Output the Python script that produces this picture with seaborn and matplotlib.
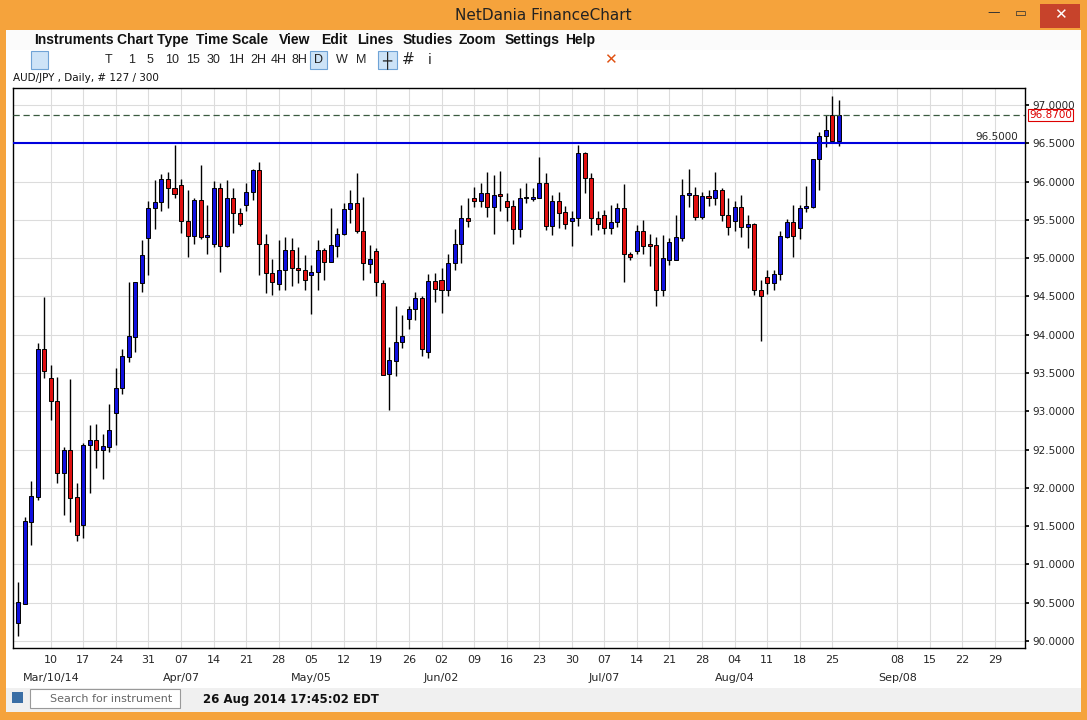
import matplotlib
matplotlib.use('Agg')
import matplotlib.pyplot as plt
import matplotlib.transforms as mtransforms
from matplotlib.patches import Rectangle
import numpy as np
import pandas as pd
import seaborn as sns

# AUD/JPY daily candles, Mar 03 2014 .. Aug 26 2014
opens = [90.23, 90.49, 91.55, 91.88, 93.82, 93.43, 93.14, 92.19, 92.50, 91.88,
         91.52, 92.56, 92.63, 92.49, 92.54, 92.98, 93.31, 93.71, 93.97, 94.68,
         95.26, 95.65, 95.73, 96.03, 95.91, 95.96, 95.49, 95.29, 95.76, 95.27,
         95.19, 95.91, 95.16, 95.79, 95.59, 95.70, 95.86, 96.15, 95.18, 94.80,
         94.66, 94.85, 95.11, 94.87, 94.84, 94.78, 94.82, 95.11, 94.95, 95.16,
         95.32, 95.64, 95.72, 95.35, 94.92, 95.09, 94.68, 93.49, 93.66, 93.90,
         94.21, 94.33, 94.48, 93.78, 94.70, 94.71, 94.58, 94.94, 95.19, 95.52,
         95.79, 95.74, 95.85, 95.67, 95.82, 95.74, 95.68, 95.38, 95.78, 95.77,
         95.79, 95.98, 95.42, 95.75, 95.60, 95.49, 95.52, 96.37, 96.05, 95.52,
         95.56, 95.40, 95.47, 95.65, 95.05, 95.09, 95.35, 95.17, 95.17, 94.58,
         94.97, 94.97, 95.26, 95.82, 95.82, 95.54, 95.81, 95.78, 95.89, 95.57,
         95.49, 95.67, 95.41, 95.45, 94.59, 94.76, 94.67, 94.79, 95.28, 95.47,
         95.39, 95.65, 95.67, 96.29, 96.59, 96.87, 96.53]
closes = [90.505, 91.57, 91.89, 93.82, 93.53, 93.14, 92.19, 92.50, 91.87, 91.39,
          92.56, 92.63, 92.49, 92.55, 92.76, 93.31, 93.72, 93.98, 94.69, 95.04,
          95.65, 95.73, 96.03, 95.91, 95.84, 95.49, 95.29, 95.76, 95.27, 95.30,
          95.91, 95.16, 95.79, 95.59, 95.44, 95.86, 96.15, 95.18, 94.80, 94.69,
          94.85, 95.11, 94.87, 94.84, 94.71, 94.82, 95.11, 94.95, 95.17, 95.32,
          95.64, 95.72, 95.35, 94.94, 94.99, 94.69, 93.48, 93.67, 93.90, 93.98,
          94.33, 94.48, 93.81, 94.70, 94.60, 94.58, 94.94, 95.19, 95.52, 95.49,
          95.74, 95.85, 95.67, 95.82, 95.81, 95.67, 95.38, 95.78, 95.79, 95.79,
          95.98, 95.42, 95.75, 95.59, 95.44, 95.52, 96.37, 96.05, 95.52, 95.44,
          95.40, 95.47, 95.65, 95.05, 95.01, 95.35, 95.16, 95.16, 94.58, 95.00,
          95.21, 95.28, 95.83, 95.83, 95.54, 95.81, 95.78, 95.89, 95.56, 95.41,
          95.67, 95.41, 95.45, 94.58, 94.50, 94.67, 94.79, 95.29, 95.47, 95.29,
          95.65, 95.68, 96.29, 96.59, 96.68, 96.53, 96.87]
highs = [90.77, 91.62, 92.09, 93.89, 94.49, 93.60, 93.45, 92.54, 93.42, 92.07,
         92.59, 92.82, 92.84, 92.71, 93.09, 93.56, 93.82, 94.69, 94.69, 95.24,
         95.75, 96.02, 96.10, 96.13, 96.48, 96.03, 95.89, 95.78, 96.22, 95.69,
         96.01, 95.98, 96.02, 95.91, 95.65, 95.98, 96.17, 96.25, 95.32, 94.99,
         95.24, 95.27, 95.26, 95.15, 95.04, 94.91, 95.24, 95.13, 95.65, 95.39,
         95.72, 95.89, 96.11, 95.80, 95.17, 95.13, 94.72, 93.84, 94.37, 94.26,
         94.37, 94.56, 94.50, 94.79, 94.80, 94.87, 95.06, 95.38, 95.69, 95.78,
         95.93, 95.98, 96.13, 96.09, 96.14, 95.85, 95.76, 95.92, 95.98, 95.92,
         96.32, 96.11, 95.82, 95.87, 95.68, 95.62, 96.48, 96.39, 96.11, 95.61,
         95.63, 95.69, 95.72, 95.97, 95.08, 95.43, 95.50, 95.32, 95.28, 95.30,
         95.26, 95.56, 96.03, 96.17, 95.93, 95.87, 95.89, 96.12, 95.91, 95.79,
         95.74, 95.82, 95.56, 95.46, 94.71, 94.85, 94.84, 95.35, 95.51, 95.69,
         95.69, 95.94, 96.30, 96.65, 96.87, 97.12, 97.07]
lows = [90.06, 90.48, 91.25, 91.84, 93.44, 92.89, 92.07, 91.65, 91.55, 91.30,
        91.35, 91.93, 92.26, 92.12, 92.47, 92.56, 93.23, 93.64, 93.78, 94.56,
        94.78, 95.38, 95.62, 95.65, 95.79, 95.33, 95.02, 95.19, 95.25, 95.05,
        95.15, 94.82, 95.15, 95.33, 95.42, 95.61, 95.76, 94.78, 94.54, 94.52,
        94.58, 94.58, 94.63, 94.68, 94.58, 94.27, 94.59, 94.71, 94.95, 95.02,
        95.30, 95.46, 95.33, 94.71, 94.80, 94.51, 93.48, 93.02, 93.46, 93.83,
        94.07, 94.19, 93.72, 93.70, 94.43, 94.28, 94.50, 94.84, 94.94, 95.41,
        95.67, 95.67, 95.54, 95.32, 95.61, 95.48, 95.19, 95.28, 95.72, 95.74,
        95.78, 95.37, 95.30, 95.39, 95.38, 95.16, 95.42, 95.85, 95.30, 95.37,
        95.31, 95.31, 95.41, 94.69, 94.97, 95.05, 95.05, 94.90, 94.37, 94.50,
        94.91, 94.97, 95.22, 95.67, 95.50, 95.51, 95.68, 95.70, 95.48, 95.30,
        95.35, 95.28, 95.13, 94.52, 93.92, 94.53, 94.58, 94.72, 95.26, 95.02,
        95.25, 95.60, 95.65, 95.89, 96.45, 96.50, 96.46]

start_date = '2014-03-03'
support_level = 96.5
last_price = 96.87
y_ticks = np.arange(90.0, 97.01, 0.5)
skipped_mondays = ['2014-09-01']

dates = pd.bdate_range(start_date, periods=len(opens))
df = pd.DataFrame({'date': dates, 'open': opens, 'high': highs,
                   'low': lows, 'close': closes})
df['idx'] = np.arange(len(df))
df['up'] = df['close'] >= df['open']

# future axis (x up to end of Sept)
future = pd.bdate_range(start_date, '2014-10-03')
mondays = [(i, d) for i, d in enumerate(future)
           if d.weekday() == 0 and d >= pd.Timestamp('2014-03-10')
           and d.strftime('%Y-%m-%d') not in skipped_mondays and i <= 154]

sns.set_theme(style='white')
plt.rcParams['font.family'] = ['DejaVu Sans']

W, H = 1087, 720
fig = plt.figure(figsize=(W / 100, H / 100), dpi=100)
fig.patch.set_facecolor('#f5a33c')

def px(x, y, w, h):
    return [x / W, 1 - (y + h) / H, w / W, h / H]

def rect(x, y, w, h, **kw):
    r = Rectangle((x / W, 1 - (y + h) / H), w / W, h / H, transform=fig.transFigure, zorder=-5, **kw)
    fig.patches.append(r)

# window chrome
rect(6, 30, 1075, 682, facecolor='white', edgecolor='none')
rect(6, 30, 1075, 20, facecolor='#fbfbfb', edgecolor='none')
rect(6, 688, 1075, 24, facecolor='#f0f0f0', edgecolor='none')
fig.text(0.5, 1 - 16 / H, 'NetDania FinanceChart', ha='center', va='center', fontsize=11, color='#222222')
fig.text(994 / W, 1 - 13 / H, '—', ha='center', va='center', fontsize=9, color='#333333')
fig.text(1021 / W, 1 - 13 / H, '▭', ha='center', va='center', fontsize=9, color='#333333')
rect(1040, 4, 40, 24, facecolor='#c7432b', edgecolor='none')
fig.text(1060 / W, 1 - 15 / H, '✕', ha='center', va='center', fontsize=11, color='white')

menu = [('Instruments', 34), ('Chart Type', 117), ('Time Scale', 196), ('View', 279), ('Edit', 321),
        ('Lines', 357), ('Studies', 403), ('Zoom', 459), ('Settings', 505), ('Help', 565)]
for m, mx in menu:
    fig.text(mx / W, 1 - 40 / H, m, ha='left', va='center', fontsize=10, fontweight='bold',
             color='#111111', family=['Liberation Sans', 'DejaVu Sans'])

tools = [('T', 105), ('1', 128), ('5', 147), ('10', 165), ('15', 186), ('30', 207), ('1H', 228),
         ('2H', 250), ('4H', 271), ('8H', 292), ('D', 314), ('W', 336), ('M', 356)]
rect(310, 51, 17, 18, facecolor='#cde3f7', edgecolor='#6fa3d6', lw=0.8)
rect(31, 51, 17, 18, facecolor='#cde3f7', edgecolor='#6fa3d6', lw=0.8)
rect(378, 51, 19, 18, facecolor='#cde3f7', edgecolor='#6fa3d6', lw=0.8)
for tl, tx in tools:
    fig.text(tx / W, 1 - 60 / H, tl, ha='left', va='center', fontsize=9, color='#222222',
             family=['Liberation Sans', 'DejaVu Sans'])
fig.text(387 / W, 1 - 60 / H, '┼', ha='center', va='center', fontsize=11, color='#222222')
fig.text(408 / W, 1 - 60 / H, '#', ha='center', va='center', fontsize=11, color='#222222')
fig.text(430 / W, 1 - 60 / H, 'i', ha='center', va='center', fontsize=10, color='#222222')
fig.text(610 / W, 1 - 60 / H, '✕', ha='center', va='center', fontsize=11, color='#e05010')
fig.text(13 / W, 1 - 78 / H, 'AUD/JPY , Daily, # 127 / 300', ha='left', va='center', fontsize=7.5, color='#111111')

rect(30, 689, 150, 19, facecolor='white', edgecolor='#999999', lw=0.8)
rect(12, 692, 11, 11, facecolor='#3a6ea5', edgecolor='none')
fig.text(50 / W, 1 - 699 / H, 'Search for instrument', ha='left', va='center', fontsize=8, color='#666666')
fig.text(203 / W, 1 - 699 / H, '26 Aug 2014 17:45:02 EDT', ha='left', va='center', fontsize=8.5,
         fontweight='bold', color='#111111')

# main chart
ax = fig.add_axes(px(13, 88, 1012, 560))
ax.set_facecolor('white')
ax.set_xlim(-0.8, 154.6)
ax.set_ylim(89.909, 97.222)

ax.set_xticks([i for i, d in mondays])
ax.set_xticklabels([f'{d.day:02d}' for i, d in mondays], fontsize=8)
ax.set_yticks(y_ticks)
ax.set_yticklabels([f'{v:.4f}' for v in y_ticks], fontsize=7.5)
ax.yaxis.tick_right()
ax.tick_params(axis='both', length=3, color='black', pad=2)
ax.grid(True, color='#dcdcdc', lw=0.8)
ax.set_axisbelow(True)
for s in ax.spines.values():
    s.set_color('black')
    s.set_linewidth(1)

# month labels: first listed Monday of each month
trans = mtransforms.blended_transform_factory(ax.transData, ax.transAxes)
seen = set()
for k, (i, d) in enumerate(mondays):
    if d.month not in seen:
        seen.add(d.month)
        lab = d.strftime('%b/%d') + ('/14' if k == 0 else '')
        ax.text(i, -0.045, lab, transform=trans, ha='center', va='top', fontsize=8)

# wicks and bodies
ax.vlines(df['idx'], df['low'], df['high'], color='black', lw=1, zorder=2)
body_colors = np.where(df['up'], '#1010e0', '#e01010')
body_h = (df['close'] - df['open']).abs().clip(lower=0.025)
body_b = df[['open', 'close']].min(axis=1)
ax.bar(df['idx'], body_h, bottom=body_b, width=0.62, color=body_colors,
       edgecolor='black', lw=0.7, zorder=3)

sns.lineplot(x=[-0.8, 154.6], y=[support_level, support_level], ax=ax, color='#0000dd', lw=1.5, zorder=4)
sns.lineplot(x=[-0.8, 154.6], y=[last_price, last_price], ax=ax, color='#3a5a40', lw=0.9,
             linestyle=(0, (5, 3)), zorder=4)
ax.text(153.5, support_level + 0.02, f'{support_level:.4f}', ha='right', va='bottom', fontsize=7.5)
ax.text(1.004, last_price, f'{last_price:.4f}',
        transform=mtransforms.blended_transform_factory(ax.transAxes, ax.transData),
        ha='left', va='center', fontsize=7.5, color='#dd0000',
        bbox=dict(boxstyle='square,pad=0.1', facecolor='white', edgecolor='#dd0000', lw=0.8))

fig.savefig('out.png', dpi=100, facecolor=fig.get_facecolor())
